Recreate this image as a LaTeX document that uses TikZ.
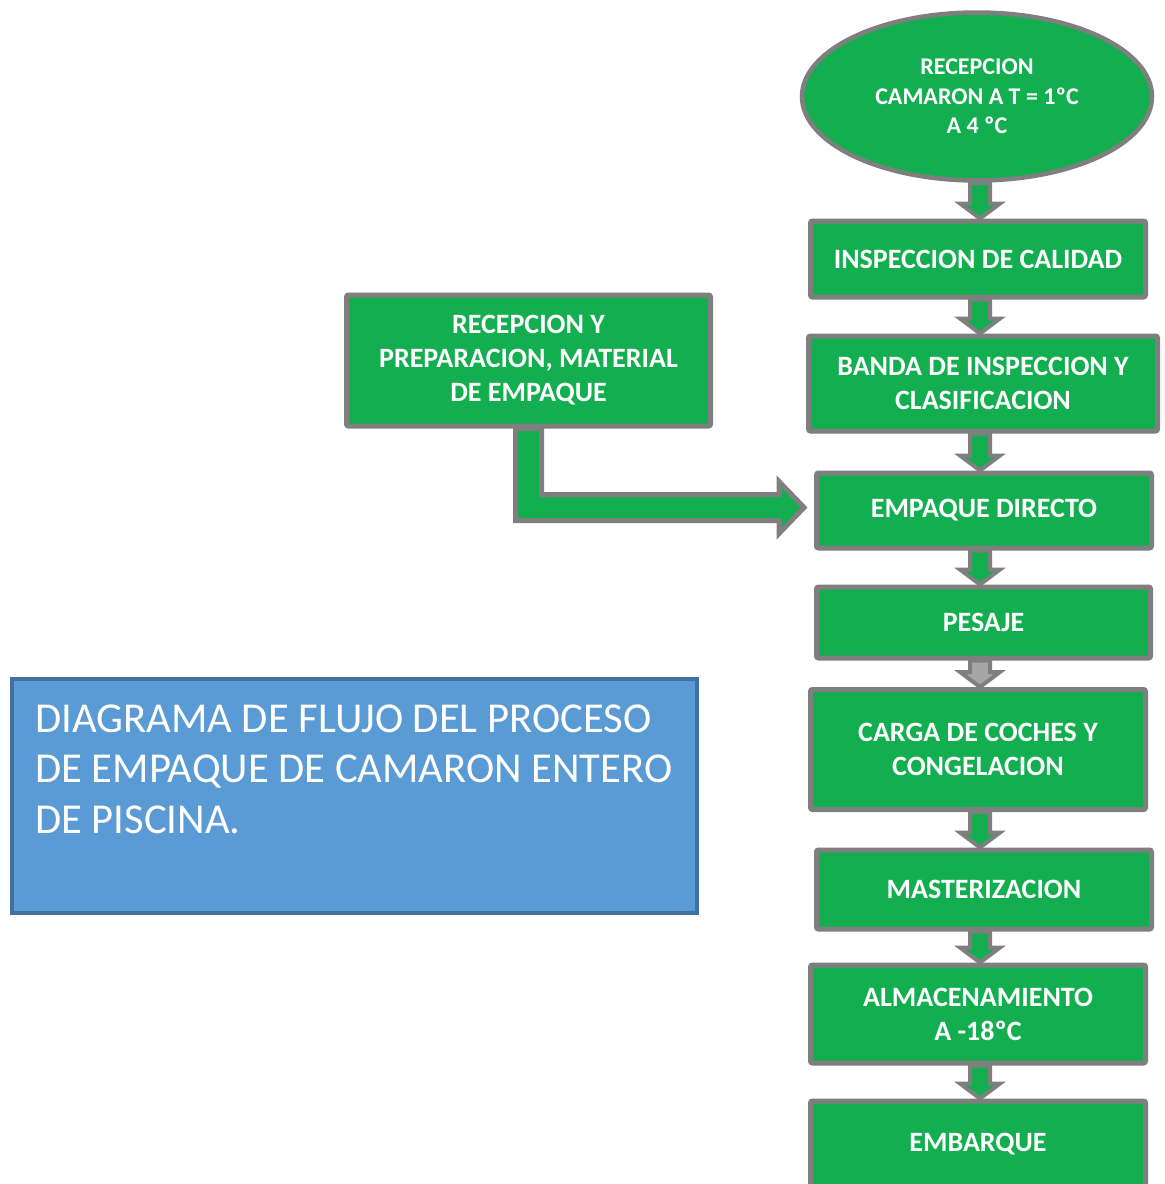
\documentclass[tikz,border=0pt]{standalone}
\usepackage{fontspec}
\setmainfont{Carlito}
\usetikzlibrary{calc,shapes.geometric}
\definecolor{boxgreen}{HTML}{13AE50}
\definecolor{edgegray}{HTML}{7F7F7F}
\definecolor{lightgray2}{HTML}{A6A6A6}
\definecolor{bluefill}{HTML}{5B9BD5}
\definecolor{blueedge}{HTML}{41719C}
\tikzset{
  stepbox/.style={draw=edgegray, fill=boxgreen, line width=5pt, rounded corners=2pt,
    text=white, font=\bfseries\fontsize{28}{34}\selectfont, align=center, inner sep=0pt},
  startell/.style={ellipse, draw=edgegray, fill=boxgreen, line width=4.5pt,
    text=white, font=\bfseries\fontsize{24}{29.5}\selectfont, align=center, inner sep=0pt},
  greenarrow/.style={draw=edgegray, fill=boxgreen, line width=4pt, line join=miter},
  grayarrow/.style={draw=edgegray, fill=lightgray2, line width=4pt, line join=miter},
  titlebox/.style={draw=blueedge, fill=bluefill, line width=4pt},
  titletext/.style={text=white, font=\fontsize{42.6}{50.5}\selectfont, align=left, inner sep=0pt}
}
\newcommand\flowarrow[3][greenarrow]{%
  \draw[#1] let \p1=(#2.south -| axis), \p2=(#3.north -| axis) in
    (\x1-10pt,\y1) -- (\x1+10pt,\y1) -- (\x1+10pt,\y2+15pt) -- (\x1+20pt,\y2+15pt)
    -- (\x1,\y2) -- (\x1-20pt,\y2+15pt) -- (\x1-10pt,\y2+15pt) -- cycle;}
\begin{document}
\begin{tikzpicture}[x=1pt,y=-1pt]
\useasboundingbox (0,0) rectangle (1165,1184);
\coordinate (axis) at (980,0);

\node[startell, minimum width=350, minimum height=168] (ell) at (977,96.5)
  {RECEPCION\\CAMARON A T = 1ºC\\A 4 ºC};
\node[stepbox, minimum width=335, minimum height=76] (b1) at (978,259) {INSPECCION DE CALIDAD};
\node[stepbox, minimum width=349, minimum height=95] (b2) at (983,383.5) {BANDA DE INSPECCION Y\\CLASIFICACION};
\node[stepbox, minimum width=335, minimum height=75] (b3) at (984,510.5) {EMPAQUE DIRECTO};
\node[stepbox, minimum width=334, minimum height=71] (b4) at (983.5,622.5) {PESAJE};
\node[stepbox, minimum width=335, minimum height=120] (b5) at (978,749.5) {CARGA DE COCHES Y\\CONGELACION};
\node[stepbox, minimum width=335, minimum height=79] (b6) at (984,889.5) {MASTERIZACION};
\node[stepbox, minimum width=335, minimum height=98] (b7) at (978,1014) {ALMACENAMIENTO\\A -18ºC};
\node[stepbox, minimum width=335, minimum height=87] (b8) at (978,1144.5) {EMBARQUE};
\node[stepbox, minimum width=364, minimum height=131] (left) at (528.5,360.5)
  {RECEPCION Y\\PREPARACION, MATERIAL\\DE EMPAQUE};

\node[titlebox, minimum width=685, minimum height=234] (blue) at (354.5,796) {};
\node[titletext, anchor=north west] (title) at (35,704.5)
  {DIAGRAMA DE FLUJO DEL PROCESO\\DE EMPAQUE DE CAMARON ENTERO\\DE PISCINA.};

\flowarrow{ell}{b1}
\flowarrow{b1}{b2}
\flowarrow{b2}{b3}
\flowarrow{b3}{b4}
\flowarrow[grayarrow]{b4}{b5}
\flowarrow{b5}{b6}
\flowarrow{b6}{b7}
\flowarrow{b7}{b8}

\draw[greenarrow, line width=5pt] let \p1=(left.south), \p2=(b3.west) in
  (\x1-13pt,\y1) -- (\x1-13pt,\y2+3pt-13pt) -- (\x2-35pt,\y2+3pt-13pt)
  -- (\x2-35pt,\y2+3pt-26pt) -- (\x2-10pt,\y2+3pt) -- (\x2-35pt,\y2+3pt+26pt)
  -- (\x2-35pt,\y2+3pt+13pt) -- (\x1+13pt,\y2+3pt+13pt) -- (\x1+13pt,\y1) -- cycle;
\end{tikzpicture}
\end{document}
